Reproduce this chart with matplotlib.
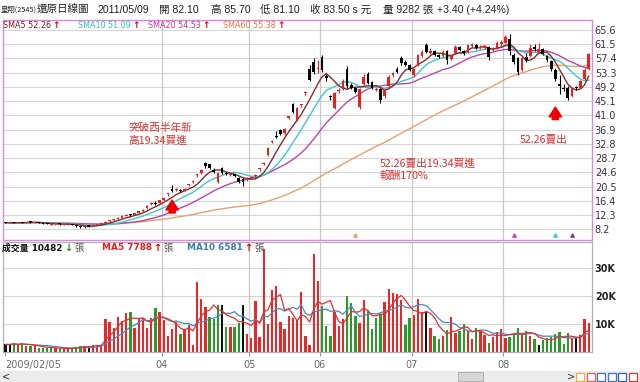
import numpy as np
import pandas as pd
import matplotlib
matplotlib.use('Agg')
import matplotlib.pyplot as plt
from matplotlib.patches import Rectangle
import matplotlib.transforms as mtransforms

plt.rcParams['font.family'] = ['DejaVu Sans', 'Noto Sans CJK TC']

# 日K資料 2009/02/05 起
close = [10.1, 10.1, 10.0, 10.2, 10.1, 10.3, 10.2, 10.25, 10.0, 9.8,
         9.7, 9.6, 9.7, 9.6, 9.65, 9.7, 9.5, 9.2, 8.8, 9.0,
         9.0, 9.5, 9.7, 9.9, 10.4, 10.8, 11.0, 11.5, 11.9, 12.4,
         12.2, 12.8, 13.4, 13.8, 15.0, 15.7, 15.5, 16.5, 17.2, 18.4,
         19.34, 19.6, 19.3, 19.8, 21.0, 22.0, 23.8, 25.2, 26.3, 25.9,
         24.8, 24.4, 24.4, 24.0, 24.1, 23.6, 21.8, 21.8, 22.8, 23.2,
         23.9, 25.6, 27.2, 31.5, 33.5, 34.8, 35.6, 37.0, 40.5, 42.0,
         43.0, 44.0, 47.5, 51.2, 53.5, 54.6, 54.0, 51.7, 46.3, 47.4,
         48.3, 51.0, 49.5, 49.0, 47.8, 48.5, 52.0, 50.2, 48.8, 48.5,
         45.5, 48.3, 52.1, 53.1, 53.6, 56.0, 55.5, 54.1, 54.3, 58.4,
         59.3, 59.3, 59.6, 58.4, 57.9, 59.3, 56.9, 58.4, 60.8, 59.8,
         58.9, 61.3, 61.5, 60.3, 60.8, 61.0, 57.9, 60.3, 61.8, 62.2,
         63.7, 59.5, 56.4, 53.5, 57.5, 57.0, 60.3, 60.0, 60.0, 58.8,
         57.0, 54.5, 51.5, 49.5, 48.5, 46.0, 48.8, 48.8, 51.0, 54.2,
         58.6]
open_ = [10.2, 10.0, 10.1, 10.0, 10.2, 10.1, 10.3, 10.1, 10.2, 9.9,
         9.8, 9.5, 9.6, 9.7, 9.5, 9.6, 9.6, 9.4, 9.1, 8.8,
         9.1, 9.2, 9.5, 9.7, 10.1, 10.5, 10.9, 11.2, 11.6, 12.0,
         12.5, 12.3, 13.0, 13.5, 14.2, 15.4, 15.9, 15.8, 16.6, 18.3,
         19.8, 19.5, 19.4, 19.3, 21.0, 21.9, 23.7, 24.4, 27.2, 26.9,
         25.2, 21.8, 25.9, 24.3, 23.8, 24.0, 23.0, 22.6, 22.6, 23.1,
         23.6, 25.5, 27.1, 29.5, 33.4, 35.2, 36.8, 35.8, 40.4, 44.2,
         39.6, 43.9, 47.4, 54.5, 56.5, 54.5, 57.8, 52.4, 46.4, 43.1,
         48.0, 48.5, 54.5, 49.7, 49.0, 43.5, 50.0, 53.0, 50.5, 48.2,
         48.5, 46.5, 49.5, 52.5, 54.5, 57.5, 56.5, 55.5, 52.5, 55.5,
         58.0, 61.3, 59.0, 59.5, 58.3, 58.0, 59.6, 57.2, 59.0, 60.8,
         59.5, 59.3, 61.0, 61.3, 60.4, 60.5, 60.8, 59.8, 60.5, 61.5,
         62.0, 63.0, 58.5, 57.5, 54.0, 57.8, 58.0, 60.6, 59.4, 60.2,
         58.2, 56.8, 54.0, 50.0, 48.8, 49.0, 46.5, 49.0, 49.0, 51.5,
         54.5]
high = [10.3, 10.3, 10.2, 10.3, 10.3, 10.4, 10.4, 10.3, 10.2, 10.0,
        9.9, 9.8, 9.8, 9.8, 9.7, 9.8, 9.7, 9.5, 9.2, 9.2,
        9.3, 9.6, 9.8, 10.0, 10.6, 11.0, 11.3, 11.7, 12.2, 12.6,
        12.7, 13.0, 13.6, 14.1, 15.2, 16.0, 16.3, 16.7, 17.5, 18.8,
        20.9, 20.0, 19.7, 20.0, 21.3, 22.4, 24.2, 25.6, 27.6, 27.0,
        25.8, 24.8, 26.2, 24.6, 24.5, 24.2, 23.2, 22.9, 23.2, 23.5,
        24.2, 25.9, 27.6, 31.8, 33.9, 36.6, 37.2, 37.4, 40.9, 44.6,
        43.4, 44.3, 47.9, 55.5, 57.6, 57.0, 58.5, 53.0, 47.0, 47.8,
        48.8, 51.4, 55.2, 50.2, 49.3, 48.8, 52.8, 53.4, 51.0, 49.2,
        48.9, 48.6, 52.5, 53.6, 55.0, 58.0, 57.0, 55.8, 54.8, 58.8,
        59.8, 62.0, 60.3, 59.8, 58.8, 59.7, 59.9, 58.8, 61.3, 61.0,
        59.9, 61.7, 62.0, 61.6, 61.2, 61.4, 61.0, 60.8, 62.3, 62.6,
        64.2, 64.4, 59.0, 57.8, 58.0, 59.0, 61.5, 61.5, 61.8, 60.5,
        58.5, 57.0, 54.6, 52.5, 50.0, 49.5, 49.0, 49.6, 51.3, 54.8,
        59.0]
low = [10.0, 9.9, 9.9, 9.9, 10.0, 10.0, 10.1, 10.0, 9.9, 9.7,
       9.6, 9.4, 9.5, 9.5, 9.4, 9.5, 9.3, 9.0, 8.6, 8.7,
       8.9, 9.1, 9.4, 9.6, 10.0, 10.4, 10.7, 11.0, 11.5, 11.9,
       12.0, 12.2, 12.9, 13.3, 14.0, 15.1, 15.2, 15.6, 16.4, 17.9,
       19.0, 19.1, 18.9, 19.2, 20.6, 21.6, 23.2, 24.1, 26.0, 25.5,
       24.5, 21.6, 24.2, 23.7, 23.5, 23.3, 21.5, 20.8, 22.2, 22.8,
       23.4, 25.0, 26.8, 29.2, 33.0, 34.5, 35.4, 35.5, 40.0, 41.6,
       39.3, 43.5, 47.0, 50.8, 53.0, 53.2, 53.5, 51.0, 45.5, 42.8,
       47.5, 48.3, 49.0, 48.6, 47.5, 42.8, 49.5, 50.0, 48.5, 47.9,
       44.5, 46.0, 49.2, 52.0, 53.2, 55.5, 55.2, 53.8, 52.2, 55.2,
       57.8, 59.0, 58.7, 58.0, 57.6, 57.8, 55.9, 57.0, 58.8, 59.5,
       58.5, 59.0, 60.6, 60.0, 60.0, 60.2, 57.0, 59.5, 60.2, 61.0,
       61.8, 58.5, 55.8, 52.6, 53.8, 56.5, 57.8, 59.5, 59.0, 58.3,
       56.5, 53.8, 51.0, 47.2, 48.0, 45.5, 46.2, 48.2, 48.8, 51.2,
       54.2]
# 成交量 (千張)
volume = [2.7, 2.7, 3.1, 2.6, 3.2, 2.2, 2.2, 2.0, 1.5, 1.5,
          1.5, 1.3, 1.3, 1.2, 1.2, 1.3, 1.5, 1.8, 2.1, 2.3,
          2.0, 2.5, 2.4, 2.6, 11.7, 10.6, 8.5, 12.6, 11.1, 14.1,
          14.4, 8.5, 12.1, 12.1, 8.6, 12.1, 15.7, 14.4, 11.6, 5.6,
          8.3, 10.9, 6.4, 8.3, 9.6, 2.6, 25.1, 19.0, 16.0, 12.5,
          11.8, 16.8, 16.8, 8.9, 9.1, 9.1, 10.3, 16.8, 6.3, 5.0,
          18.3, 5.4, 37.0, 9.9, 22.2, 23.6, 10.7, 8.3, 13.1, 12.1,
          11.6, 21.4, 5.9, 2.6, 35.2, 25.6, 16.5, 9.3, 5.7, 14.3,
          9.3, 11.8, 20.1, 17.5, 12.8, 10.3, 18.6, 15.2, 8.4, 12.3,
          13.5, 18.1, 22.8, 21.3, 20.8, 18.6, 9.8, 12.1, 13.3, 19.0,
          14.3, 14.3, 8.5, 5.9, 4.5, 5.7, 8.0, 12.5, 6.7, 7.5,
          10.1, 7.5, 4.6, 8.5, 7.5, 6.1, 3.2, 5.5, 7.3, 8.4,
          5.0, 5.5, 6.3, 8.5, 6.9, 7.5, 5.7, 4.6, 2.5, 4.2,
          5.2, 5.5, 6.4, 7.3, 2.7, 6.8, 5.0, 5.0, 6.0, 12.0,
          10.5]

month_first_bar = [38, 59, 76, 98, 120]
month_labels = ['04', '05', '06', '07', '08']
first_date = '2009/02/05'
price_ticks = [8.2, 12.3, 16.4, 20.5, 24.6, 28.7, 32.8, 36.9, 41.0, 45.1,
               49.2, 53.3, 57.4, 61.5, 65.6]
vol_ticks = [10, 20, 30]
vol_tick_labels = ['10K', '20K', '30K']
signal_bars = [84, 122, 132, 136]
signal_colors = ['#e8a070', '#c050b0', '#40c8c8', '#705070']

buy_bar = 40
sell_bar = 132

c = np.array(close)
o = np.array(open_)
h = np.array(high)
l = np.array(low)
v = np.array(volume)
x = np.arange(len(c))

s = pd.Series(c)
sma5 = s.rolling(5, min_periods=1).mean()
sma10 = s.rolling(10, min_periods=1).mean()
sma20 = s.rolling(20, min_periods=1).mean()
sma60 = s.rolling(60, min_periods=1).mean()
vs = pd.Series(v)
vma5 = vs.rolling(5, min_periods=1).mean()
vma10 = vs.rolling(10, min_periods=1).mean()

W, H = 640, 382
fig = plt.figure(figsize=(6.4, 3.82), dpi=100)
fig.patch.set_facecolor('white')

def fx(px):
    return px / W

def fy(py):
    return 1 - py / H

def with_arrow(txt_artist, arrow, color, gap=1.0, size=6.5):
    # 箭頭緊跟在文字後面
    return plt.annotate(arrow, xy=(1, 0.5), xycoords=txt_artist, xytext=(gap, 0),
                        textcoords='offset points', va='center', ha='left',
                        color=color, fontsize=size, fontweight='bold')

ax = fig.add_axes([fx(3), fy(240), fx(592) - fx(3), fy(20) - fy(240)])
axv = fig.add_axes([fx(3), fy(352), fx(592) - fx(3), fy(242) - fy(352)])

xlim = (-0.6, 140.8)

# ---- 價格 ----
ax.set_xlim(*xlim)
ax.set_ylim(5.12, 68.48)
for t in price_ticks:
    ax.axhline(t, color='#d6d6d6', lw=0.8, zorder=0)
for b in month_first_bar:
    ax.axvline(b - 0.5, color='#c8c8c8', lw=0.9, zorder=0)

ax.plot(x, sma60, color='#e8a070', lw=1.0, zorder=2)
ax.plot(x, sma20, color='#b848a8', lw=1.0, zorder=2)
ax.plot(x, sma10, color='#40c8c8', lw=1.0, zorder=2)
ax.plot(x, sma5, color='#7a3030', lw=1.0, zorder=2)

up = c >= o
col = np.where(up, '#e82020', '#000000')
ax.vlines(x, l, h, colors=col, lw=0.8, zorder=3)
body_lo = np.minimum(o, c)
body_h = np.maximum(np.abs(c - o), 0.3)
ax.bar(x, body_h, bottom=body_lo, width=0.65, color=col, linewidth=0, zorder=4)

trans = mtransforms.blended_transform_factory(ax.transData, ax.transAxes)
for b, sc in zip(signal_bars, signal_colors):
    ax.plot(b, 0.025, marker='^', ms=2.5, color=sc, mec=sc, transform=trans,
            zorder=5, clip_on=False)

ax.yaxis.tick_right()
ax.set_yticks(price_ticks)
ax.set_yticklabels([f'{t:.1f}' for t in price_ticks], fontsize=7, color='#333333')
ax.tick_params(axis='y', length=0, pad=2)
ax.set_xticks([])
for sp in ax.spines.values():
    sp.set_color('#d98ad9')
    sp.set_linewidth(1.0)

# 圖例
leg = [('SMA5 52.26', '#7f1f1f', 2),
       ('SMA10 51.09', '#33bbbb', 77),
       ('SMA20 54.53', '#cc3399', 147),
       ('SMA60 55.38', '#e07b39', 222)]
for txt, tc, x0 in leg:
    t = fig.text(fx(x0 + 1), fy(25), txt, color=tc, fontsize=5.8, va='center', ha='left')
    with_arrow(t, '↑', '#e00000')

# 註解
red_txt = '#d83030'
cjk = ['Noto Sans CJK TC', 'DejaVu Sans']
fig.text(fx(128), fy(128), '突破西半年新', color=red_txt, fontsize=7.7, family=cjk,
         va='center', ha='left')
fig.text(fx(128), fy(141), '高19.34買進', color=red_txt, fontsize=7.7, family=cjk,
         va='center', ha='left')
fig.text(fx(380), fy(164), '52.26賣出19.34買進', color=red_txt, fontsize=7.7,
         family=cjk, va='center', ha='left')
fig.text(fx(380), fy(176), '報酬170%', color=red_txt, fontsize=7.7, family=cjk,
         va='center', ha='left')
fig.text(fx(520), fy(140), '52.26賣出', color=red_txt, fontsize=7.7, family=cjk,
         va='center', ha='left')

arrow_kw = dict(arrowstyle='simple,head_length=0.7,head_width=0.9,tail_width=0.45',
                color='#ee0000', shrinkA=0, shrinkB=0)
ax.annotate('', xy=(buy_bar, 16.6), xytext=(buy_bar, 12.9), arrowprops=arrow_kw)
ax.annotate('', xy=(sell_bar, 43.4), xytext=(sell_bar, 39.8), arrowprops=arrow_kw)

# ---- 成交量 ----
axv.set_xlim(*xlim)
axv.set_ylim(0, 39.5)
for t in vol_ticks:
    axv.axhline(t, color='#d6d6d6', lw=0.8, zorder=0)
for b in month_first_bar:
    axv.axvline(b - 0.5, color='#c8c8c8', lw=0.9, zorder=0)

prev = np.concatenate([[c[0]], c[:-1]])
vcol = np.where(c > prev, '#e82828', np.where(c < prev, '#2a9a2a', '#111111'))
axv.bar(x, v, width=0.55, color=vcol, linewidth=0, zorder=3)
axv.plot(x, vma10, color='#4a8ab8', lw=0.9, zorder=4)
axv.plot(x, vma5, color='#e03030', lw=0.9, zorder=4)

axv.yaxis.tick_right()
axv.set_yticks(vol_ticks)
axv.set_yticklabels(vol_tick_labels, fontsize=6.9, color='#222222', fontweight='bold')
axv.tick_params(axis='y', length=0, pad=2)
tick_pos = [0] + [b - 0.5 for b in month_first_bar]
axv.set_xticks(tick_pos)
axv.set_xticklabels([first_date] + month_labels, fontsize=7, color='#6a6a6a')
axv.get_xticklabels()[0].set_ha('left')
axv.tick_params(axis='x', length=3, pad=3, color='#999999')
for sp in axv.spines.values():
    sp.set_color('#b0b0b0')
    sp.set_linewidth(0.9)

vy = fy(248)
vleg = [(2, '成交量 10482', '#111111', '↓', '#2a8a2a'),
        (102, 'MA5 7788', '#e02020', '↑', '#e00000'),
        (187, 'MA10 6581', '#3a7fb0', '↑', '#e00000')]
for px, txt, tc, arr, ac in vleg:
    t = fig.text(fx(px), vy, txt, color=tc, fontsize=6.4, fontweight='bold', va='center')
    a = with_arrow(t, arr, ac, size=7)
    plt.annotate('張', xy=(1, 0.5), xycoords=a, xytext=(1.5, 0), textcoords='offset points',
                 va='center', ha='left', color='#555555', fontsize=6.8, family=cjk)

# ---- 標題 ----
tfont = ['Liberation Sans', 'Noto Sans CJK TC']
ty = fy(10)
fig.text(fx(1), ty, '皇翔(2545)', fontsize=5.3, family=cjk, color='#222222', va='center')
title_parts = [(37, '還原日線圖'), (98, '2011/05/09'), (159, '開 82.10'),
               (211, '高 85.70'), (260, '低 81.10'), (310, '收 83.50 s 元'),
               (383, '量 9282 張'), (437, '+3.40 (+4.24%)')]
for px, txt in title_parts:
    fig.text(fx(px), ty, txt, fontsize=7.6, family=tfont, color='#222222', va='center')

# ---- 底部捲軸 ----
fig.patches.append(Rectangle((0, 0), 1, 11 / H, transform=fig.transFigure,
                             facecolor='#ececec', edgecolor='none', zorder=0))
fig.patches.append(Rectangle((fx(458), 1 / H), 25 / W, 9 / H, transform=fig.transFigure,
                             facecolor='#d6d6d6', edgecolor='#aaaaaa', lw=0.6))
fig.text(fx(2), 5.5 / H, '<', fontsize=7, color='#333333', va='center')
fig.text(fx(567), 5.5 / H, '>', fontsize=7, color='#333333', va='center')
icon_cols = ['#f0b040', '#e06060', '#4070d0', '#4070d0', '#3060c0', '#d04040']
for k, ic in enumerate(icon_cols):
    fig.patches.append(Rectangle((fx(576 + k * 10.5), 1.5 / H), 8 / W, 8 / H,
                                 transform=fig.transFigure, facecolor='white',
                                 edgecolor=ic, lw=0.9))

fig.savefig('out.png', dpi=100)
